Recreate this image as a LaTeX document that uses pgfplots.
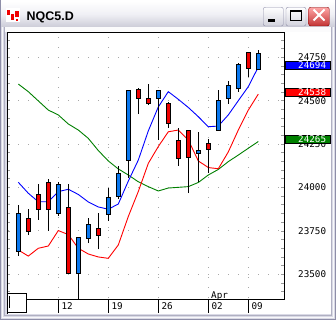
\documentclass[border=0pt]{standalone}
\usepackage{pgfplots}
\pgfplotsset{compat=1.18}
\usepackage{fontspec}
\setmainfont{DejaVu Sans Mono}
\newfontfamily\titlefont{Liberation Sans}
\definecolor{cndblue}{HTML}{0A78F0}
\definecolor{cndred}{HTML}{F00000}
\definecolor{mablue}{HTML}{0000FF}
\definecolor{mared}{HTML}{FF0000}
\definecolor{magreen}{HTML}{008000}
\definecolor{winedge}{HTML}{8E8EA8}
\definecolor{winframe}{HTML}{DADAE6}
\definecolor{gridc}{HTML}{A8A8A8}
\tikzset{digits/.style={inner sep=0pt, text height=6.8bp, text depth=0pt, font=\fontsize{9.3}{10}\selectfont}}
\begin{document}
\begin{tikzpicture}
\begin{scope}[x=1bp,y=1bp]
\useasboundingbox (0,0) rectangle (336,320);
% window frame
\fill[winedge] (0,0) rectangle (336,320);
\fill[winframe] (1,1) rectangle (335,319);
\draw[white!80!winframe, line width=1bp] (2.5,2.5) rectangle (333.5,317.5);
\draw[winedge!70!white, line width=1bp] (4.5,4.5) rectangle (331.5,292);
\shade[top color=white, bottom color=winedge!45!white, middle color=winframe!40!white] (1,293) rectangle (335,319);
\fill[white!90!winframe] (5,288) rectangle (331,293);
% icon
\fill[white] (6,298) rectangle (20,312);
\fill[cndred] (7,305) rectangle (10,310);
\fill[cndred] (11,300) rectangle (14,306);
\fill[cndred] (15,303) rectangle (19,309);
\fill[cndred] (16,299) rectangle (18,301);
% title
\node[anchor=base west, inner sep=0, font=\titlefont\bfseries\fontsize{12.5}{14}\selectfont] at (26.5,299.5) {NQC5.D};
% buttons
\shade[top color=white, bottom color=winedge!40!white, draw=winedge, rounded corners=2bp] (263.3,294) rectangle (283.3,312.7);
\fill[black] (268.3,298) rectangle (275,300.7);
\shade[top color=white, bottom color=winedge!40!white, draw=winedge, rounded corners=2bp] (286,294) rectangle (306,312.7);
\draw[black, line width=1bp] (290.5,299.8) rectangle (301.2,309.5);
\draw[black, line width=1bp] (290.5,308.8) -- (301.2,308.8);
\shade[top color=red!35!white, bottom color=red!70!black!80!white, draw=red!50!black, rounded corners=2bp] (308.7,294) rectangle (329.3,312.7);
\draw[white, line width=2bp] (313.5,299.5) -- (324.5,310.5) (313.5,310.5) -- (324.5,299.5);
% client panel
\fill[white] (7,6) rectangle (331,288);
\end{scope}
\begin{axis}[
  at={(7bp,21bp)}, anchor=south west,
  scale only axis, width=277bp, height=266.5bp,
  xmin=-1.13, xmax=26.57, ymin=23357.8, ymax=24892.8,
  axis line style={black, line width=1bp},
  ytick={23500,23750,24000,24250,24500,24750},
  yticklabels={23500,23750,24000,24250,24500,24750},
  scaled y ticks=false,
  minor ytick={23400,23450,...,24850},
  yticklabel pos=right, ytick pos=both,
  ytick style={color=gray!80, line width=0.8bp},
  minor tick length=3bp, major tick length=3bp, tick align=inside,
  xtick={4,9,14,19,23}, xticklabels={12,19,26,02,09},
  xtick style={draw=none},
  xmajorgrids, ymajorgrids,
  grid style={color=gridc, line width=1bp, dash pattern=on 1bp off 9bp, dash phase=8.7bp},
  tick label style={digits},
  yticklabel style={anchor=west, xshift=14bp},
  xticklabel style={anchor=west, xshift=3bp, yshift=-7bp},
  unbounded coords=jump,
]
\addplot[magreen, line width=0.9bp] coordinates {
(0,24596) (1,24552) (2,24499) (3,24446) (4,24418) (5,24366) (6,24331) (7,24283)
(8,24213) (9,24153) (10,24107) (11,24072) (12,24033) (13,24005) (14,23980)
(15,23997) (16,24001) (17,24005) (18,24029) (19,24072) (20,24104) (21,24149)
(22,24187) (23,24226) (24,24265)};
\addplot[mared, line width=0.9bp] coordinates {
(0,23640) (1,23605) (2,23650) (3,23663) (4,23752) (5,23729) (6,23650) (7,23617)
(8,23600) (9,23592) (10,23669) (11,23833) (12,23977) (13,24139) (14,24236)
(15,24321) (16,24331) (17,24274) (18,24153) (19,24115) (20,24108) (21,24205)
(22,24331) (23,24446) (24,24538)};
\addplot[mablue, line width=0.9bp] coordinates {
(0,24030) (1,23967) (2,23918) (3,23918) (4,23976) (5,23990) (6,23960) (7,23917)
(8,23888) (9,23875) (10,23905) (11,24037) (12,24158) (13,24326) (14,24464)
(15,24552) (16,24508) (17,24461) (18,24408) (19,24350) (20,24354) (21,24418)
(22,24500) (23,24581) (24,24694)};
% wicks: low to high of each session
\addplot[black, line width=1bp] coordinates {
(0,23606) (0,23899) (0,nan)
(1,23726) (1,23875) (1,nan)
(2,23813) (2,24020) (2,nan)
(3,23750) (3,24047) (3,nan)
(4,23838) (4,24033) (4,nan)
(5,23506) (5,24018) (5,nan)
(6,23340) (6,23713) (6,nan)
(7,23679) (7,23823) (7,nan)
(8,23644) (8,23851) (8,nan)
(9,23809) (9,23995) (9,nan)
(10,23934) (10,24124) (10,nan)
(11,24053) (11,24556) (11,nan)
(12,24422) (12,24571) (12,nan)
(13,24475) (13,24596) (13,nan)
(14,24274) (14,24556) (14,nan)
(15,24345) (15,24494) (15,nan)
(16,24124) (16,24341) (16,nan)
(17,23967) (17,24331) (17,nan)
(18,24033) (18,24320) (18,nan)
(19,24085) (19,24279) (19,nan)
(20,24326) (20,24562) (20,nan)
(21,24481) (21,24613) (21,nan)
(22,24552) (22,24715) (22,nan)
(23,24638) (23,24782) (23,nan)
(24,24681) (24,24792)};
% rising sessions: body from open to close
\addplot[fill=cndblue, draw=black, line width=1bp] coordinates {
(-0.22,23634) (0.22,23634) (0.22,23851) (-0.22,23851) (-0.22,23634) (0,nan)
(3.78,23851) (4.22,23851) (4.22,24018) (3.78,24018) (3.78,23851) (4,nan)
(5.78,23506) (6.22,23506) (6.22,23713) (5.78,23713) (5.78,23506) (6,nan)
(6.78,23707) (7.22,23707) (7.22,23788) (6.78,23788) (6.78,23707) (7,nan)
(8.78,23847) (9.22,23847) (9.22,23944) (8.78,23944) (8.78,23847) (9,nan)
(9.78,23951) (10.22,23951) (10.22,24082) (9.78,24082) (9.78,23951) (10,nan)
(10.78,24153) (11.22,24153) (11.22,24556) (10.78,24556) (10.78,24153) (11,nan)
(13.78,24514) (14.22,24514) (14.22,24556) (13.78,24556) (13.78,24514) (14,nan)
(17.78,24197) (18.22,24197) (18.22,24216) (17.78,24216) (17.78,24197) (18,nan)
(19.78,24326) (20.22,24326) (20.22,24504) (19.78,24504) (19.78,24326) (20,nan)
(20.78,24514) (21.22,24514) (21.22,24585) (20.78,24585) (20.78,24514) (21,nan)
(21.78,24571) (22.22,24571) (22.22,24710) (21.78,24710) (21.78,24571) (22,nan)
(23.78,24681) (24.22,24681) (24.22,24773) (23.78,24773) (23.78,24681)};
% falling sessions
\addplot[fill=cndred, draw=black, line width=1bp] coordinates {
(0.78,23744) (1.22,23744) (1.22,23823) (0.78,23823) (0.78,23744) (1,nan)
(1.78,23875) (2.22,23875) (2.22,23961) (1.78,23961) (1.78,23875) (2,nan)
(2.78,23875) (3.22,23875) (3.22,24030) (2.78,24030) (2.78,23875) (3,nan)
(4.78,23506) (5.22,23506) (5.22,23886) (4.78,23886) (4.78,23506) (5,nan)
(7.78,23722) (8.22,23722) (8.22,23765) (7.78,23765) (7.78,23722) (8,nan)
(11.78,24514) (12.22,24514) (12.22,24566) (11.78,24566) (11.78,24514) (12,nan)
(12.78,24485) (13.22,24485) (13.22,24514) (12.78,24514) (12.78,24485) (13,nan)
(14.78,24370) (15.22,24370) (15.22,24485) (14.78,24485) (14.78,24370) (15,nan)
(15.78,24168) (16.22,24168) (16.22,24268) (15.78,24268) (15.78,24168) (16,nan)
(16.78,24172) (17.22,24172) (17.22,24326) (16.78,24326) (16.78,24172) (17,nan)
(18.78,24220) (19.22,24220) (19.22,24251) (18.78,24251) (18.78,24220) (19,nan)
(22.78,24687) (23.22,24687) (23.22,24779) (22.78,24779) (22.78,24687)};
\end{axis}
\begin{scope}[x=1bp,y=1bp]
% x tick marks below the axis
\foreach \tx in {58.3,108.3,158.3,208.3,248.3} \draw[black, line width=1bp] (\tx,21) -- (\tx,7);
\draw[black, line width=1bp] (7,21) -- (7,6);
\node[anchor=west, digits] at (211,24.5) {Apr};
% small box bottom-left
\draw[black, fill=white, line width=1bp] (7,7.3) rectangle (26.7,26.7);
\draw[black, line width=1bp] (9.2,24) -- (9.2,11.7);
% last value boxes
\draw[black, fill=mablue, line width=0.8bp] (285,251) rectangle (330,259);
\node[anchor=west, digits, text=white] at (298,255) {24694};
\draw[black, fill=mared, line width=0.8bp] (285,224) rectangle (330,231.7);
\node[anchor=west, digits, text=white] at (298,227.9) {24538};
\draw[black, fill=magreen, line width=0.8bp] (285,176.7) rectangle (330,185);
\node[anchor=west, digits, text=white] at (298,180.9) {24265};
\end{scope}
\end{tikzpicture}
\end{document}
